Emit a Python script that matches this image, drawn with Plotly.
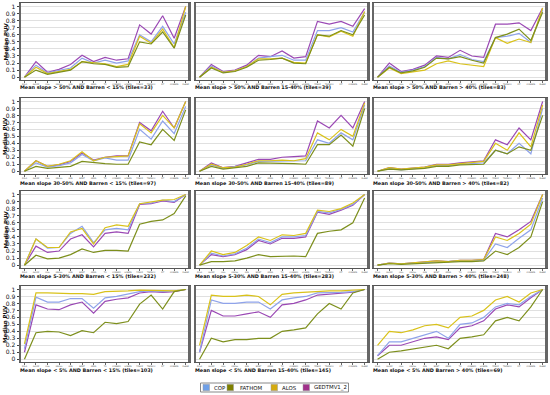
import plotly.graph_objects as go

categories = ["ECLS", "SLOPE", "HILL", "KNOLL", "SCN", "BENT", "SEDD", "TH",
              "CONNEC", "LOWER", "FENCE", "TRENCH", "PIT", "CORNER", "PLANE"]
series_names = ["COP", "FATHOM", "ALOS", "GEDTMV1_2"]
panel_titles = [
    "Mean slope > 50% AND Barren < 15% (tiles=33)",
    "Mean slope > 50% AND Barren 15-40% (tiles=39)",
    "Mean slope > 50% AND Barren > 40% (tiles=83)",
    "Mean slope 30-50% AND Barren < 15% (tiles=97)",
    "Mean slope 30-50% AND Barren 15-40% (tiles=89)",
    "Mean slope 30-50% AND Barren > 40% (tiles=82)",
    "Mean slope 5-30% AND Barren < 15% (tiles=232)",
    "Mean slope 5-30% AND Barren 15-40% (tiles=283)",
    "Mean slope 5-30% AND Barren > 40% (tiles=248)",
    "Mean slope < 5% AND Barren < 15% (tiles=103)",
    "Mean slope < 5% AND Barren 15-40% (tiles=145)",
    "Mean slope < 5% AND Barren > 40% (tiles=69)",
]

# per panel: COP, FATHOM, ALOS, GEDTMV1_2
p1_cop = [0, 0.17, 0.06, 0.09, 0.13, 0.27, 0.20, 0.24, 0.20, 0.23, 0.60, 0.50, 0.72, 0.47, 0.92]
p1_fat = [0, 0.10, 0.04, 0.07, 0.10, 0.22, 0.19, 0.18, 0.14, 0.15, 0.50, 0.47, 0.64, 0.41, 0.88]
p1_alo = [0, 0.14, 0.05, 0.08, 0.11, 0.22, 0.20, 0.19, 0.15, 0.18, 0.58, 0.48, 0.68, 0.42, 1.0]
p1_ged = [0, 0.22, 0.07, 0.11, 0.18, 0.31, 0.22, 0.28, 0.24, 0.26, 0.74, 0.61, 0.87, 0.55, 1.0]

p2_cop = [0, 0.16, 0.07, 0.09, 0.15, 0.27, 0.29, 0.31, 0.24, 0.24, 0.66, 0.66, 0.70, 0.64, 0.92]
p2_fat = [0, 0.13, 0.06, 0.08, 0.14, 0.24, 0.25, 0.27, 0.20, 0.19, 0.60, 0.58, 0.66, 0.60, 0.88]
p2_alo = [0, 0.14, 0.07, 0.09, 0.15, 0.26, 0.26, 0.27, 0.21, 0.20, 0.60, 0.57, 0.65, 0.58, 0.93]
p2_ged = [0, 0.18, 0.08, 0.10, 0.17, 0.31, 0.29, 0.37, 0.27, 0.29, 0.79, 0.75, 0.79, 0.72, 0.97]

p3_cop = [0, 0.16, 0.07, 0.10, 0.15, 0.28, 0.26, 0.32, 0.25, 0.22, 0.56, 0.58, 0.62, 0.49, 0.95]
p3_fat = [0, 0.14, 0.06, 0.09, 0.14, 0.27, 0.26, 0.29, 0.24, 0.20, 0.56, 0.61, 0.68, 0.52, 0.92]
p3_alo = [0, 0.13, 0.05, 0.08, 0.10, 0.19, 0.23, 0.19, 0.17, 0.15, 0.56, 0.48, 0.54, 0.49, 0.98]
p3_ged = [0, 0.20, 0.08, 0.11, 0.17, 0.30, 0.28, 0.38, 0.30, 0.28, 0.75, 0.75, 0.77, 0.66, 0.98]

p4_cop = [0, 0.12, 0.06, 0.08, 0.12, 0.24, 0.15, 0.19, 0.16, 0.16, 0.60, 0.46, 0.72, 0.54, 0.93]
p4_fat = [0, 0.07, 0.04, 0.05, 0.07, 0.14, 0.12, 0.11, 0.10, 0.10, 0.42, 0.38, 0.60, 0.44, 0.88]
p4_alo = [0, 0.15, 0.07, 0.10, 0.15, 0.28, 0.15, 0.20, 0.21, 0.22, 0.68, 0.55, 0.80, 0.62, 1.0]
p4_ged = [0, 0.15, 0.07, 0.09, 0.14, 0.26, 0.16, 0.20, 0.22, 0.22, 0.70, 0.58, 0.86, 0.62, 1.0]

p5_cop = [0, 0.09, 0.04, 0.06, 0.09, 0.14, 0.14, 0.15, 0.14, 0.15, 0.45, 0.40, 0.55, 0.45, 0.95]
p5_fat = [0, 0.07, 0.03, 0.05, 0.07, 0.12, 0.12, 0.12, 0.11, 0.10, 0.38, 0.38, 0.52, 0.36, 0.90]
p5_alo = [0, 0.10, 0.05, 0.06, 0.10, 0.15, 0.15, 0.16, 0.15, 0.18, 0.55, 0.45, 0.60, 0.50, 0.98]
p5_ged = [0, 0.12, 0.05, 0.07, 0.12, 0.17, 0.17, 0.20, 0.21, 0.22, 0.72, 0.62, 0.80, 0.62, 1.0]

p6_cop = [0, 0.04, 0.02, 0.03, 0.05, 0.08, 0.08, 0.10, 0.11, 0.12, 0.30, 0.25, 0.40, 0.25, 0.90]
p6_fat = [0, 0.03, 0.02, 0.03, 0.04, 0.07, 0.07, 0.09, 0.09, 0.10, 0.30, 0.25, 0.35, 0.30, 0.80]
p6_alo = [0, 0.05, 0.03, 0.04, 0.06, 0.09, 0.09, 0.11, 0.12, 0.14, 0.40, 0.30, 0.55, 0.35, 0.95]
p6_ged = [0, 0.05, 0.03, 0.04, 0.06, 0.10, 0.10, 0.12, 0.13, 0.15, 0.45, 0.38, 0.62, 0.45, 1.0]

p7_cop = [0, 0.37, 0.24, 0.25, 0.45, 0.55, 0.32, 0.50, 0.52, 0.50, 0.87, 0.88, 0.92, 0.90, 1.0]
p7_fat = [0, 0.14, 0.09, 0.10, 0.15, 0.23, 0.18, 0.21, 0.21, 0.20, 0.58, 0.62, 0.64, 0.73, 0.98]
p7_alo = [0, 0.37, 0.25, 0.25, 0.47, 0.52, 0.30, 0.53, 0.57, 0.55, 0.87, 0.90, 0.92, 0.93, 1.0]
p7_ged = [0, 0.27, 0.18, 0.20, 0.37, 0.43, 0.26, 0.45, 0.47, 0.45, 0.86, 0.87, 0.91, 0.89, 1.0]

p8_cop = [0, 0.17, 0.13, 0.16, 0.24, 0.37, 0.32, 0.40, 0.40, 0.42, 0.76, 0.74, 0.79, 0.86, 1.0]
p8_fat = [0, 0.05, 0.05, 0.06, 0.10, 0.15, 0.12, 0.13, 0.13, 0.12, 0.45, 0.48, 0.50, 0.60, 0.95]
p8_alo = [0, 0.20, 0.15, 0.18, 0.28, 0.40, 0.35, 0.43, 0.42, 0.45, 0.78, 0.76, 0.80, 0.88, 1.0]
p8_ged = [0, 0.15, 0.12, 0.15, 0.22, 0.35, 0.30, 0.38, 0.38, 0.40, 0.75, 0.72, 0.78, 0.85, 1.0]

p9_cop = [0, 0.03, 0.02, 0.03, 0.04, 0.05, 0.05, 0.06, 0.06, 0.07, 0.30, 0.25, 0.38, 0.50, 0.95]
p9_fat = [0, 0.02, 0.01, 0.02, 0.03, 0.04, 0.04, 0.05, 0.05, 0.06, 0.20, 0.15, 0.25, 0.40, 0.90]
p9_alo = [0, 0.03, 0.02, 0.03, 0.04, 0.06, 0.05, 0.07, 0.07, 0.08, 0.40, 0.35, 0.45, 0.58, 1.0]
p9_ged = [0, 0.03, 0.02, 0.03, 0.04, 0.06, 0.05, 0.07, 0.07, 0.08, 0.45, 0.40, 0.50, 0.62, 1.0]

p10_cop = [0.15, 0.89, 0.82, 0.82, 0.87, 0.87, 0.73, 0.88, 0.90, 0.93, 0.97, 0.98, 0.97, 0.98, 1.0]
p10_fat = [0, 0.38, 0.40, 0.39, 0.34, 0.41, 0.38, 0.53, 0.51, 0.54, 0.79, 0.92, 0.72, 0.97, 1.0]
p10_alo = [0.22, 0.95, 0.95, 0.94, 0.94, 0.94, 0.93, 0.97, 0.97, 0.98, 0.99, 0.99, 0.98, 0.98, 1.0]
p10_ged = [0.10, 0.78, 0.72, 0.71, 0.78, 0.82, 0.66, 0.83, 0.86, 0.88, 0.95, 0.97, 0.96, 0.97, 1.0]

p11_cop = [0.10, 0.85, 0.80, 0.80, 0.82, 0.82, 0.72, 0.85, 0.88, 0.90, 0.95, 0.95, 0.96, 0.97, 1.0]
p11_fat = [0, 0.30, 0.25, 0.28, 0.28, 0.30, 0.30, 0.40, 0.42, 0.45, 0.65, 0.80, 0.72, 0.95, 1.0]
p11_alo = [0.20, 0.92, 0.90, 0.90, 0.92, 0.90, 0.78, 0.93, 0.95, 0.96, 0.98, 0.98, 0.98, 0.99, 1.0]
p11_ged = [0.10, 0.70, 0.62, 0.62, 0.65, 0.68, 0.60, 0.78, 0.80, 0.85, 0.92, 0.93, 0.94, 0.96, 1.0]

p12_cop = [0.05, 0.25, 0.25, 0.30, 0.35, 0.40, 0.30, 0.50, 0.52, 0.60, 0.75, 0.80, 0.78, 0.90, 1.0]
p12_fat = [0, 0.10, 0.12, 0.15, 0.18, 0.20, 0.15, 0.30, 0.32, 0.35, 0.55, 0.60, 0.55, 0.75, 1.0]
p12_alo = [0.20, 0.40, 0.38, 0.42, 0.48, 0.50, 0.45, 0.60, 0.62, 0.70, 0.85, 0.90, 0.82, 0.95, 1.0]
p12_ged = [0.05, 0.20, 0.20, 0.25, 0.30, 0.32, 0.28, 0.45, 0.48, 0.55, 0.72, 0.78, 0.75, 0.88, 1.0]

panels = [
    (p1_cop, p1_fat, p1_alo, p1_ged), (p2_cop, p2_fat, p2_alo, p2_ged), (p3_cop, p3_fat, p3_alo, p3_ged),
    (p4_cop, p4_fat, p4_alo, p4_ged), (p5_cop, p5_fat, p5_alo, p5_ged), (p6_cop, p6_fat, p6_alo, p6_ged),
    (p7_cop, p7_fat, p7_alo, p7_ged), (p8_cop, p8_fat, p8_alo, p8_ged), (p9_cop, p9_fat, p9_alo, p9_ged),
    (p10_cop, p10_fat, p10_alo, p10_ged), (p11_cop, p11_fat, p11_alo, p11_ged), (p12_cop, p12_fat, p12_alo, p12_ged),
]

y_ticks = [0, 0.1, 0.2, 0.3, 0.4, 0.5, 0.6, 0.7, 0.8, 0.9, 1]
y_ticklabels = ["0", "0.1", "0.2", "0.3", "0.4", "0.5", "0.6", "0.7", "0.8", "0.9", "1"]

line_colors = ["#8fa3ea", "#7d8f1c", "#d9c21a", "#9a48b4"]
legend_colors = ["#6fa0e8", "#7f8000", "#d4aa10", "#a0308a"]

W, H = 550, 395
col_px = [(21, 188), (196, 367), (374, 545)]
row_px = [(3, 80), (98, 174), (191, 268), (286, 362)]
title_py = [88, 183, 276, 370]

fig = go.Figure()
layout = {}
for i, vals in enumerate(panels):
    r, c = divmod(i, 3)
    k = i + 1
    xa = "xaxis" if k == 1 else f"xaxis{k}"
    ya = "yaxis" if k == 1 else f"yaxis{k}"
    xref = "x" if k == 1 else f"x{k}"
    yref = "y" if k == 1 else f"y{k}"
    x0, x1 = col_px[c]
    y0, y1 = row_px[r]
    for s in [3, 0, 2, 1]:
        fig.add_trace(go.Scatter(
            x=categories, y=vals[s], mode="lines", xaxis=xref, yaxis=yref,
            line=dict(color=line_colors[s], width=1.2), showlegend=False,
            name=series_names[s], hoverinfo="skip"))
    layout[xa] = dict(
        domain=[x0 / W, x1 / W], anchor=yref, type="category",
        range=[-0.3, 14.2], showgrid=False, zeroline=False,
        showline=True, linecolor="#555", linewidth=1, mirror=True,
        ticks="outside", ticklen=2, tickcolor="#444", tickwidth=0.8,
        tickfont=dict(size=2, family="DejaVu Sans", color="#333"),
        tickangle=0, fixedrange=True, automargin=False)
    layout[ya] = dict(
        domain=[1 - y1 / H, 1 - y0 / H], anchor=xref,
        range=[-0.04, 1.05], tickvals=y_ticks, ticktext=y_ticklabels,
        showticklabels=(c == 0), showgrid=True, gridcolor="#d8d8d8", gridwidth=0.8,
        zeroline=False, showline=True, linecolor="#666", linewidth=2.5, mirror=True,
        ticks="outside" if c == 0 else "", ticklen=2, tickcolor="#444",
        tickfont=dict(size=6, family="DejaVu Sans", color="#111"),
        fixedrange=True, automargin=False)
    fig.add_annotation(
        text=f"<b>{panel_titles[i]}</b>", xref="paper", yref="paper",
        x=(x0 - 3) / W, y=1 - title_py[r] / H, xanchor="left", yanchor="middle",
        showarrow=False, font=dict(size=4.9, family="DejaVu Sans", color="#111"))
    if c == 0:
        fig.add_annotation(
            text="<b>Median PUV</b>", xref="paper", yref="paper",
            x=5 / W, y=1 - ((y0 + y1) / 2) / H, xanchor="center", yanchor="middle",
            textangle=-90, showarrow=False,
            font=dict(size=5.5, family="DejaVu Sans", color="#111"))

# legend (drawn as boxes + labels)
shapes = [dict(type="rect", xref="paper", yref="paper",
               x0=200.5 / W, x1=348.5 / W, y0=1 - 392 / H, y1=1 - 383 / H,
               line=dict(color="#888", width=1), fillcolor="rgba(0,0,0,0)")]
leg_sq_x = [203, 227, 271, 303]
leg_tx_x = [211.5, 237.5, 280, 311.5]
for s in range(4):
    sx = leg_sq_x[s]
    shapes.append(dict(type="rect", xref="paper", yref="paper",
                       x0=sx / W, x1=(sx + 6.5) / W, y0=1 - 390.7 / H, y1=1 - 384.3 / H,
                       line=dict(color="#999", width=0.5), fillcolor=legend_colors[s]))
    fig.add_annotation(
        text=series_names[s], xref="paper", yref="paper",
        x=leg_tx_x[s] / W, y=1 - 387.5 / H, xanchor="left", yanchor="middle",
        showarrow=False, font=dict(size=5.4, family="DejaVu Sans", color="#111"))

fig.update_layout(
    width=W, height=H, autosize=False, margin=dict(l=0, r=0, t=0, b=0, pad=0),
    paper_bgcolor="white", plot_bgcolor="white", showlegend=False,
    hovermode=False, shapes=shapes, **layout)

fig.write_html("out.html", config={"displayModeBar": False, "staticPlot": True},
               post_script="document.body.style.margin='0px';document.body.style.overflow='hidden';")
